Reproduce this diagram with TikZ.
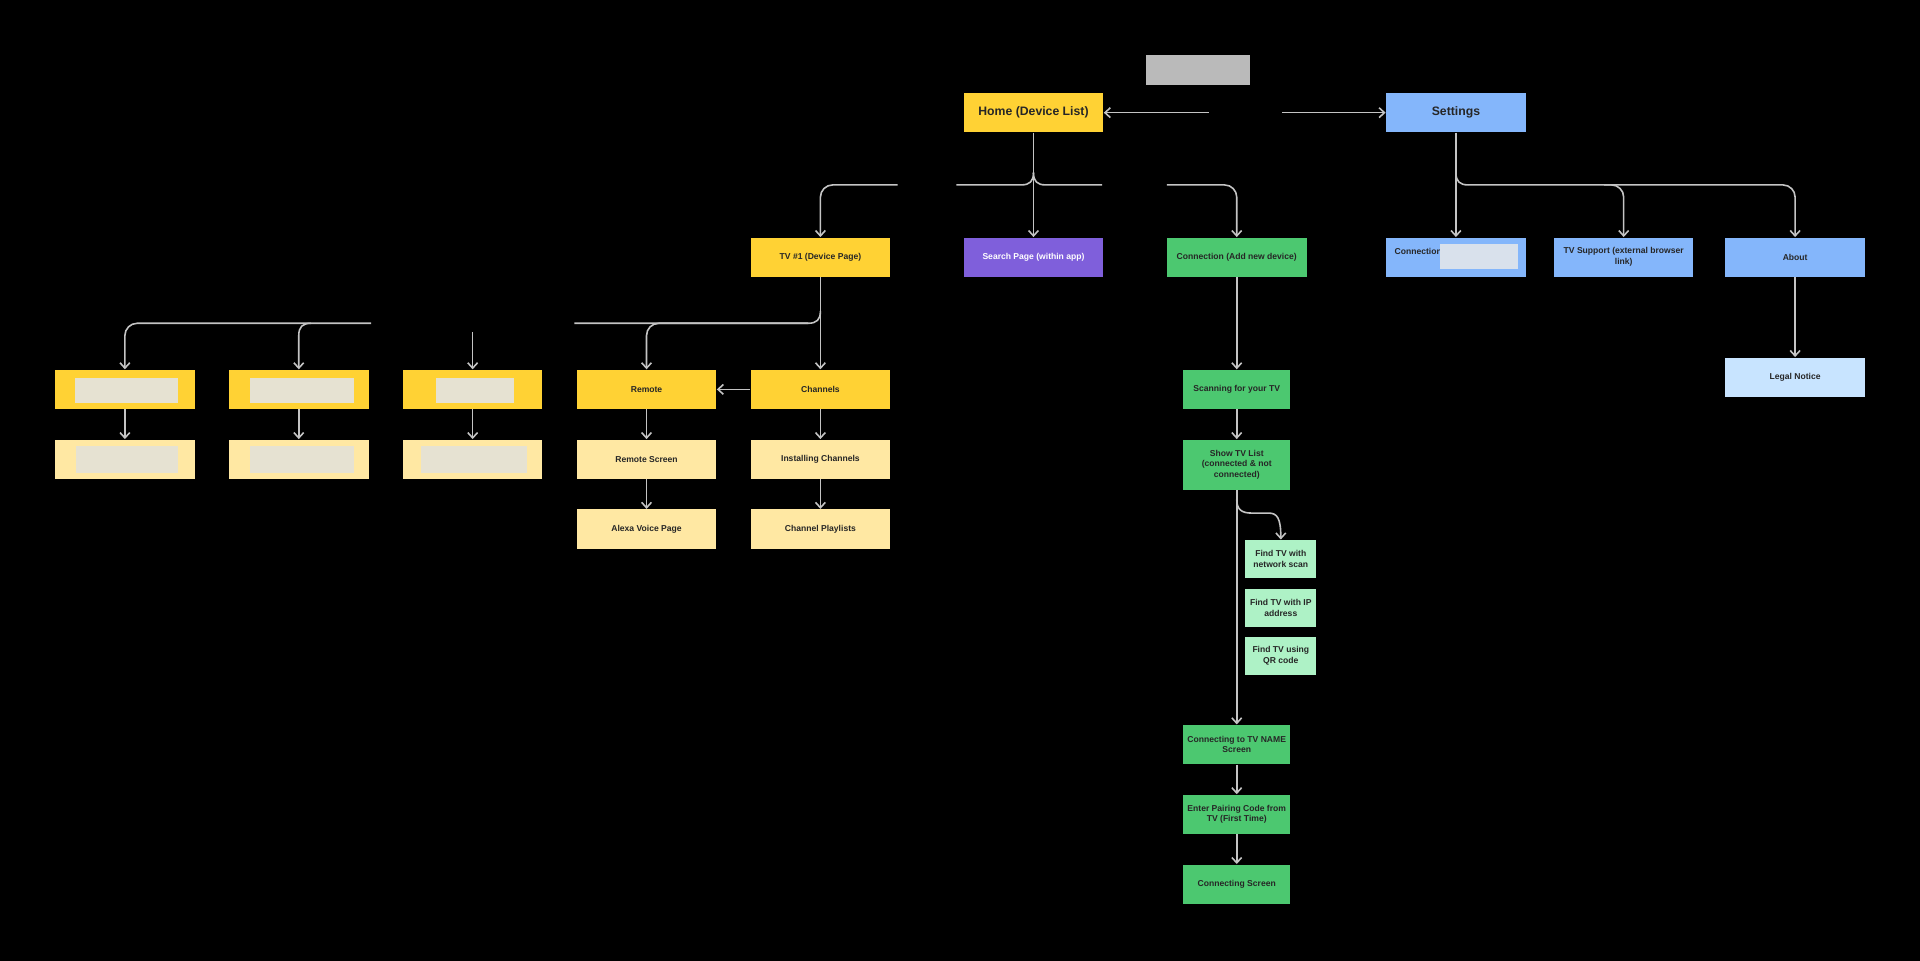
\documentclass[tikz,border=0pt]{standalone}
\usepackage{fontspec}
\setmainfont{Liberation Sans}
\usetikzlibrary{arrows.meta}
\definecolor{yel}{HTML}{FFD234}
\definecolor{lyel}{HTML}{FFE8A3}
\definecolor{pur}{HTML}{7F5FDB}
\definecolor{grn}{HTML}{4CC870}
\definecolor{lgrn}{HTML}{AEF2C6}
\definecolor{blu}{HTML}{84B6FB}
\definecolor{lblu}{HTML}{C8E4FF}
\definecolor{lnc}{HTML}{C4C4C4}
\definecolor{blur}{HTML}{E6E2D2}
\definecolor{bblur}{HTML}{D9E1EC}
\begin{document}
\begin{tikzpicture}[x=0.5pt,y=-0.5pt,
 bx/.style={draw=none,minimum width=57pt,minimum height=16pt,inner sep=1pt,align=center,font=\fontsize{3.5}{4.4}\selectfont\bfseries,text=black!85},
 big/.style={bx,font=\fontsize{5}{6}\selectfont\bfseries},
 sm/.style={bx,minimum width=43.5pt},
 fd/.style={bx,minimum width=29pt,minimum height=15.5pt,fill=lgrn},
 ln/.style={draw=lnc,line width=0.65pt},
 rc/.style={rounded corners=5pt},
 ar/.style={ln,-{Straight Barb[length=2.2pt,width=4pt]}}]
\useasboundingbox (0,0) rectangle (1568,784);
\fill[black] (-5,-5) rectangle (1573,789);
\fill[black!27] (936,45) rectangle (1021,69);
\node[big,fill=yel] (home) at (844,92) {Home (Device List)};
\node[big,fill=blu] (set) at (1189,92) {Settings};
\coordinate (hl) at (987,92); \coordinate (hr) at (1047,92);
\draw[ar] (hl) -- (home.east); \draw[ar] (hr) -- (set.west);
% row 2
\node[bx,fill=yel] (tv1) at (670,210) {TV \#1 (Device Page)};
\node[bx,fill=pur,text=white] (srch) at (844,210) {Search Page (within app)};
\node[bx,fill=grn] (conn) at (1010,210) {Connection (Add new device)};
\node[bx,fill=blu] (sconn) at (1189,210) {};
\node[anchor=west,font=\fontsize{3.5}{4.4}\selectfont\bfseries,text=black!85,inner sep=0] at (sconn.west) [xshift=3.5pt,yshift=2.5pt] {Connection};
\fill[bblur] (1176,199) rectangle (1240,220);
\node[bx,fill=blu] (sup) at (1326,210) {TV Support (external browser\\link)};
\node[bx,fill=blu] (abt) at (1466,210) {About};
\node[bx,fill=lblu] (legal) at (1466,308) {Legal Notice};
% home branches
\coordinate (b1) at (733,151); \coordinate (b2) at (781,151); \coordinate (b3) at (900,151); \coordinate (b4) at (953,151);
\draw[ar] (home.south) -- (srch.north);
\draw[ar,rc] (b1) -| (tv1.north);
\draw[ar,rc] (b4) -| (conn.north);
\draw[ln] (b2) -- (834,151) .. controls (841,151) and (844,148) .. (844,141);
\draw[ln] (b3) -- (854,151) .. controls (847,151) and (844,148) .. (844,141);
% settings branches
\draw[ar] (set.south) -- (sconn.north);
\draw[ln] (1189,141) .. controls (1189,148) and (1192,151) .. (1199,151);
\draw[ar,rc] (1199,151) -| (sup.north);
\draw[ar,rc] (1310,151) -| (abt.north);
\draw[ar] (abt.south) -- (legal.north);
% tv row 3-5
\node[bx,fill=yel] (c1) at (102,318) {}; \fill[blur] (61,309) rectangle (145,329);
\node[bx,fill=yel] (c2) at (244,318) {}; \fill[blur] (204,309) rectangle (289,329);
\node[bx,fill=yel] (c3) at (386,318) {}; \fill[blur] (356,309) rectangle (420,329);
\node[bx,fill=yel] (rem) at (528,318) {Remote};
\node[bx,fill=yel] (chan) at (670,318) {Channels};
\node[bx,fill=lyel] (d1) at (102,375) {}; \fill[blur] (62,364) rectangle (145,386);
\node[bx,fill=lyel] (d2) at (244,375) {}; \fill[blur] (204,364) rectangle (289,386);
\node[bx,fill=lyel] (d3) at (386,375) {}; \fill[blur] (344,364) rectangle (430,386);
\node[bx,fill=lyel] (rs) at (528,375) {Remote Screen};
\node[bx,fill=lyel] (ic) at (670,375) {Installing Channels};
\node[bx,fill=lyel] (av) at (528,432) {Alexa Voice Page};
\node[bx,fill=lyel] (cp) at (670,432) {Channel Playlists};
\draw[ar] (tv1.south) -- (chan.north);
\coordinate (t1) at (469,264); \coordinate (t2) at (303,264); \coordinate (t3) at (386,271);
\draw[ln] (670,254) .. controls (670,261) and (667,264) .. (660,264) -- (t1);
\draw[ar,rc] (660,264) -| (rem.north);
\draw[ar,rc] (t2) -| (c1.north);
\draw[ar] (254,264) .. controls (247,264) and (244,267) .. (244,274) -- (c2.north);
\draw[ar] (t3) -- (c3.north);
\draw[ar] (chan.west) -- (rem.east);
\foreach \a/\b in {c1/d1,c2/d2,c3/d3,rem/rs,chan/ic,rs/av,ic/cp}{\draw[ar] (\a.south) -- (\b.north);}
% connection column
\node[sm,fill=grn] (scan) at (1010,318) {Scanning for your TV};
\node[sm,fill=grn,minimum height=20.5pt] (show) at (1010,379.5) {Show TV List\\(connected \& not\\connected)};
\node[fd] (f1) at (1046,456.5) {Find TV with\\network scan};
\node[fd] (f2) at (1046,496.5) {Find TV with IP\\address};
\node[fd] (f3) at (1046,535.5) {Find TV using\\QR code};
\node[sm,fill=grn] (ctv) at (1010,608) {Connecting to TV NAME\\Screen};
\node[sm,fill=grn] (pair) at (1010,665) {Enter Pairing Code from\\TV (First Time)};
\node[sm,fill=grn] (cs) at (1010,722) {Connecting Screen};
\draw[ar] (conn.south) -- (scan.north);
\draw[ar] (scan.south) -- (show.north);
\draw[ar] (show.south) -- (ctv.north);
\draw[ar] (1010,408) .. controls (1010,416) and (1014,419) .. (1022,419) -- (1036,419) .. controls (1043,419) and (1046,423) .. (f1.north);
\draw[ar] (ctv.south) -- (pair.north);
\draw[ar] (pair.south) -- (cs.north);
\end{tikzpicture}
\end{document}
